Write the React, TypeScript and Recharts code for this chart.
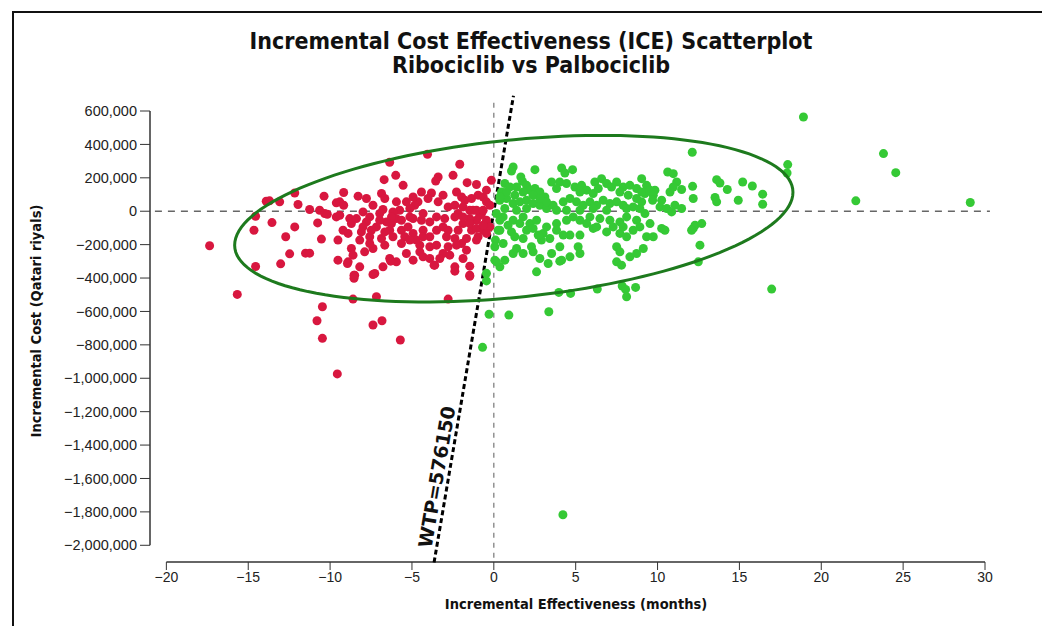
import React from 'react';
import { ScatterChart, Scatter, XAxis, YAxis, ReferenceLine, ReferenceDot } from 'recharts';

// incremental effectiveness (months), incremental cost (thousand QAR)
const RED_POINTS: [number, number][] = [
  [-17.36, -207], [-14.55, -331], [-14.55, -30], [-14.65, -114], [-13.9, 60], [-13.7, 62], [-13.08, 56],
  [-12.16, 109], [-11.96, 40], [-13.55, -68], [-12.16, -94], [-12.71, -153], [-12.47, -255], [-13.02, -315],
  [-11.5, -251], [-11.25, -251], [-11.25, 10], [-10.64, 6], [-10.33, -14], [-10.17, -18], [-10.37, 90],
  [-9.62, 50], [-10.76, -70], [-10.53, -167], [-9.62, -34], [-9.52, -173],
  [-4.05, 341], [-6.36, 293], [-2.08, 281], [-5.99, 215], [-6.7, 189], [-5.54, 155], [-3.4, 205], [-3.55, 181],
  [-2.49, 215], [-1.63, 171], [-1.06, 160], [-0.15, 185], [-9.17, 112], [-8.29, 90], [-6.86, 106], [-6.66, 76],
  [-9.41, 56], [-9.17, 36], [-3.81, 109], [-4.02, 76], [-3.4, 56], [-2.28, 115], [-1.97, 85], [-1.77, 66],
  [-1.36, 76], [-0.96, 96], [-0.65, 85], [-0.45, 56], [-0.24, 36], [-4.63, 56], [-4.83, 36], [-5.13, 16],
  [-5.75, 6], [-6.16, -4], [-6.77, 10], [-6.97, -14], [-7.99, -4], [-7.58, -34], [-7.78, -64], [-8.8, -44],
  [-8.7, -74], [-9.41, -24], [-8.9, -133], [-7.99, -94], [-8.09, -124], [-7.58, -153], [-8.7, -223],
  [-8.6, -263], [-7.89, -243], [-8.9, -303], [-8.19, -333], [-8.5, -383], [-7.27, -373], [-7.38, -223],
  [-6.86, -163], [-6.66, -203], [-6.36, -114], [-6.25, -74], [-5.95, -44], [-5.64, -114], [-5.44, -153],
  [-6.36, -283], [-5.34, -253], [-4.52, -243], [-4.32, -273], [-4.52, -203], [-3.91, -213], [-3.5, -203],
  [-3.1, -253], [-3.61, -323], [-2.38, -333], [-1.88, -283], [-1.47, -383], [-2.38, -163], [-1.97, -193],
  [-1.67, -233], [-1.36, -114], [-0.96, -153], [-0.65, -114], [-1.06, -54], [-0.75, -14], [-0.45, -54],
  [-0.24, -94], [-1.88, -74], [-1.47, -44], [-3.91, -64], [-3.5, -34], [-3.1, -94], [-4.32, -14], [-4.93, -44],
  [-5.24, -94], [-4.93, -133], [-4.32, -114], [-7.38, -379], [-3.0, -44], [-2.79, -114],
  [-2.18, -14], [-1.27, 6], [-0.86, -24], [-0.45, 126], [-5.95, 56], [-7.17, -94], [-6.66, -124],
  [-2.89, -153], [-3.91, -153], [-3.3, -283], [-2.69, -263], [-4.73, -173], [-6.16, -153], [-9.52, -293],
  [-5.13, -34], [-4.42, -54], [-5.64, -54], [-6.25, -34], [-6.56, -64], [-5.34, 56], [-4.93, 85], [-4.42, 115],
  [-3.1, 96], [-2.79, 26], [-2.38, 36], [-1.88, 26], [-1.47, 6], [-1.06, 6], [-0.65, 6], [-2.38, -34],
  [-1.88, -34], [-1.47, -74], [-1.06, -103], [-0.65, -84], [-0.45, -133], [-1.06, -173], [-1.67, -163],
  [-2.18, -114], [-3.5, -114], [-4.32, -153], [-5.13, -173], [-5.64, -193], [-6.97, -54], [-7.48, -114],
  [-7.58, -193], [-8.19, -173], [-9.21, -114], [-8.39, -44], [-7.38, 36], [-7.78, 76], [-2.79, -213],
  [-2.28, -203], [-3.91, -283], [-4.93, -293], [-5.95, -303], [-6.77, -333],
  [-15.67, -498], [-8.94, -313], [-8.54, -383], [-8.54, -402], [-8.6, -526], [-7.17, -512], [-10.47, -572],
  [-10.8, -656], [-10.47, -761], [-9.56, -974], [-7.38, -681], [-6.83, -656], [-5.71, -771], [-6.3, -299],
  [-3.65, -323], [-2.38, -359], [-1.47, -329], [-1.47, -389], [-2.79, -526],
];

const GREEN_POINTS: [number, number][] = [
  [1.18, 265], [1.08, 241], [2.51, 249], [4.14, 259], [4.34, 229], [4.81, 249], [1.65, 205], [1.75, 179],
  [0.67, 166], [0.47, 115], [0.98, 145], [1.39, 145], [2.0, 155], [2.2, 126], [2.51, 136], [2.81, 115],
  [3.12, 85], [4.03, 175], [4.44, 166], [4.95, 145], [5.36, 155], [5.67, 126], [6.17, 175], [6.58, 195],
  [6.89, 166], [7.19, 145], [7.5, 175], [7.9, 145], [8.31, 155], [8.72, 136], [9.03, 195], [9.23, 106],
  [9.03, 56], [0.37, 66], [0.78, 76], [1.18, 46], [1.59, 56], [2.0, 66], [2.4, 46], [2.81, 36], [3.22, 16],
  [3.62, 36], [4.24, 56], [4.65, 76], [5.05, 56], [5.46, 36], [5.87, 56], [6.28, 36], [6.68, 66], [7.09, 46],
  [7.5, 56], [7.9, 36], [8.51, 26], [0.57, -34], [1.18, -54], [1.79, -34], [2.2, -74], [2.61, -54],
  [1.08, -124], [0.37, -114], [2.0, -114], [3.01, -133], [3.22, -94], [3.83, -74], [4.44, -54], [4.85, -34],
  [5.26, -54], [5.87, -34], [6.48, -44], [7.09, -54], [7.7, -64], [8.11, -34], [8.72, -54], [9.23, -14],
  [0.1, -173], [0.57, -193], [1.39, -223], [2.3, -213], [1.28, -153], [1.79, -163], [2.91, -173],
  [4.03, -213], [3.53, -253], [4.14, -293], [3.32, -313], [2.61, -363], [5.15, -213], [4.65, -143],
  [5.26, -143], [6.07, -103], [6.89, -124], [7.7, -133], [7.5, -213], [7.7, -243], [8.11, -153],
  [9.13, -223], [9.33, -153], [0.16, -14], [0.27, -114], [0.06, -213], [0.06, -293], [0.37, -333],
  [3.53, 175], [3.83, 136], [5.26, 115], [6.07, 106], [6.38, 136], [7.7, 115], [8.21, 96], [8.72, 76],
  [9.33, 155], [1.79, 115], [1.28, 96], [0.78, 115], [0.37, 85], [2.4, 96], [2.81, 76], [3.22, 56],
  [2.0, 16], [1.39, 6], [0.67, 16], [4.44, 6], [5.26, 6], [6.07, 16], [6.89, 6], [8.11, 16], [8.92, 16],
  [3.83, 6], [0.37, -54], [0.87, -84], [1.59, -74], [2.4, -103], [2.71, -143], [3.42, -163], [4.24, -143],
  [3.83, -114], [5.67, -74], [6.28, -94], [7.29, -94], [7.9, -94], [8.51, -114], [8.92, -94], [5.26, -253],
  [4.65, -273], [1.18, -253], [0.67, -293], [1.79, -253], [2.4, -243], [2.81, -283], [8.31, -273],
  [8.72, -253],
  [0.16, -303], [-0.45, -372], [-0.45, -417], [-0.29, -617], [0.92, -622], [-0.69, -815], [4.03, -299],
  [3.97, -486], [4.69, -492], [3.36, -602], [6.32, -466], [7.5, -303], [7.8, -323], [7.84, -448],
  [8.05, -468], [8.11, -512], [8.66, -456], [16.97, -466], [12.49, -303], [4.22, -1817],
  [12.12, 353], [10.62, 235], [10.96, 225], [11.17, 175], [10.96, 145], [10.76, 115], [11.47, 130],
  [12.14, 149], [12.18, 76], [9.03, 115], [9.54, 126], [9.84, 126], [9.74, 96], [9.7, 66], [10.25, 66],
  [10.15, 26], [10.56, 16], [10.86, -4], [11.06, 36], [11.47, 16], [9.54, -74], [10.25, -103],
  [10.45, -114], [9.74, -153], [12.18, -103], [12.29, -84], [12.7, -74], [12.08, -114], [12.59, -203],
  [13.61, 189], [13.81, 169], [14.26, 130], [13.51, 82], [13.61, 56], [15.2, 175], [15.79, 151],
  [14.93, 66], [16.42, 102], [16.42, 42], [17.95, 279], [17.91, 229],
  [18.91, 564], [23.8, 345], [24.55, 231], [22.11, 62], [29.1, 52],
];

const X_TICKS = [-20, -15, -10, -5, 0, 5, 10, 15, 20, 25, 30];
const Y_TICKS = [-2000000, -1800000, -1600000, -1400000, -1200000, -1000000, -800000, -600000, -400000, -200000, 0, 200000, 400000, 600000];

const WTP = 576150;
const WTP_X_RANGE = [-3.65, 1.2];

// 95% confidence ellipse
const ELLIPSE_CENTER = { x: 1.22, y: -44800 };
const ELLIPSE_AXIS_A = { x: 17.05, y: 158400 };
const ELLIPSE_AXIS_B = { x: 0, y: 473000 };

const RED = '#d8173f';
const GREEN = '#35c935';
const ELLIPSE_GREEN = '#1d7a1d';

const redData = RED_POINTS.map(([x, c]) => ({ x, y: c * 1000 }));
const greenData = GREEN_POINTS.map(([x, c]) => ({ x, y: c * 1000 }));

const ellipseData = Array.from({ length: 145 }, (_, i) => {
  const t = (i / 144) * Math.PI * 2;
  return {
    x: ELLIPSE_CENTER.x + ELLIPSE_AXIS_A.x * Math.cos(t) + ELLIPSE_AXIS_B.x * Math.sin(t),
    y: ELLIPSE_CENTER.y + ELLIPSE_AXIS_A.y * Math.cos(t) + ELLIPSE_AXIS_B.y * Math.sin(t),
  };
});

const fmt = (v: number) => (v < 0 ? '\u2212' + Math.abs(v).toLocaleString('en-US') : v.toLocaleString('en-US'));

const dot = (color: string) => (p: any) => <circle cx={p.cx} cy={p.cy} r={4.5} fill={color} />;

const App = () => {
  return (
    <div style={{ position: 'absolute', left: 0, top: 0, width: 1042, height: 626, background: '#fff', overflow: 'hidden' }}>
      <div style={{ position: 'absolute', left: 12, top: 11, width: 1040, height: 630, border: '2px solid #111' }} />
      <div
        style={{
          position: 'absolute', left: 10, top: 29, width: 1042, textAlign: 'center',
          fontFamily: '"DejaVu Sans Condensed", "Liberation Sans Narrow", sans-serif', fontWeight: 'bold',
          fontSize: 23, lineHeight: '24px', color: '#111',
        }}
      >
        <div>Incremental Cost Effectiveness (ICE) Scatterplot</div>
        <div>Ribociclib vs Palbociclib</div>
      </div>
      <div
        style={{
          position: 'absolute', left: 376, top: 596, width: 400, textAlign: 'center',
          fontFamily: '"DejaVu Sans Condensed", sans-serif', fontWeight: 'bold', fontSize: 14.5, color: '#111',
        }}
      >
        Incremental Effectiveness (months)
      </div>
      <div
        style={{
          position: 'absolute', left: 36 - 150, top: 323 - 10, width: 300, textAlign: 'center',
          transform: 'rotate(-90deg)', fontFamily: '"DejaVu Sans Condensed", sans-serif', fontWeight: 'bold',
          fontSize: 14.5, color: '#111',
        }}
      >
        Incremental Cost (Qatari riyals)
      </div>
      <div style={{ position: 'absolute', left: 0, top: 0 }}>
        <ScatterChart width={1042} height={626} margin={{ top: 111, right: 57, bottom: 34, left: 8 }}>
          <XAxis
            type="number"
            dataKey="x"
            domain={[-21, 30]}
            allowDataOverflow
            ticks={X_TICKS}
            tickFormatter={fmt}
            axisLine={false}
            tickSize={8}
            tickLine={{ stroke: '#333' }}
            tick={{ fill: '#222', fontSize: 14, fontFamily: '"Liberation Sans", Arial, sans-serif' }}
            height={30}
          />
          <YAxis
            type="number"
            dataKey="y"
            domain={[-2100000, 600000]}
            allowDataOverflow
            ticks={Y_TICKS}
            tickFormatter={fmt}
            axisLine={false}
            tickSize={10}
            tickMargin={3}
            tickLine={{ stroke: '#333' }}
            tick={{ fill: '#222', fontSize: 14.5, fontFamily: '"Liberation Sans", Arial, sans-serif' }}
            width={142}
          />
          <ReferenceLine
            segment={[{ x: -21, y: -2000000 }, { x: -21, y: 600000 }]}
            stroke="#333"
            strokeWidth={1.5}
            ifOverflow="visible"
          />
          <ReferenceLine
            segment={[{ x: -20, y: -2100000 }, { x: 30, y: -2100000 }]}
            stroke="#333"
            strokeWidth={1.5}
            ifOverflow="visible"
          />
          <ReferenceLine
            segment={[{ x: -20.7, y: 0 }, { x: 30.3, y: 0 }]}
            stroke="#666"
            strokeWidth={1.5}
            strokeDasharray="7 6"
            ifOverflow="visible"
          />
          <ReferenceLine
            segment={[{ x: 0, y: -2075000 }, { x: 0, y: 665000 }]}
            stroke="#777"
            strokeWidth={1.2}
            strokeDasharray="5 5"
            ifOverflow="visible"
          />
          <Scatter data={redData} fill={RED} shape={dot(RED)} isAnimationActive={false} />
          <Scatter data={greenData} fill={GREEN} shape={dot(GREEN)} isAnimationActive={false} />
          <Scatter
            data={ellipseData}
            line={{ stroke: ELLIPSE_GREEN, strokeWidth: 3 }}
            shape={() => <g />}
            isAnimationActive={false}
          />
          <ReferenceLine
            segment={[
              { x: WTP_X_RANGE[0], y: WTP * WTP_X_RANGE[0] },
              { x: WTP_X_RANGE[1], y: WTP * WTP_X_RANGE[1] },
            ]}
            stroke="#000"
            strokeWidth={3}
            strokeDasharray="5 3"
            ifOverflow="visible"
          />
          <ReferenceDot
            x={-3.5}
            y={-1590000}
            r={0}
            ifOverflow="visible"
            shape={(p: any) => (
              <text
                x={p.cx}
                y={p.cy}
                transform={`rotate(-80.4 ${p.cx} ${p.cy})`}
                textAnchor="middle"
                dominantBaseline="central"
                fontFamily='"DejaVu Sans", sans-serif'
                fontWeight="bold"
                fontSize={19}
                fill="#111"
              >
                WTP=576150
              </text>
            )}
          />
        </ScatterChart>
      </div>
    </div>
  );
};

export default App;
